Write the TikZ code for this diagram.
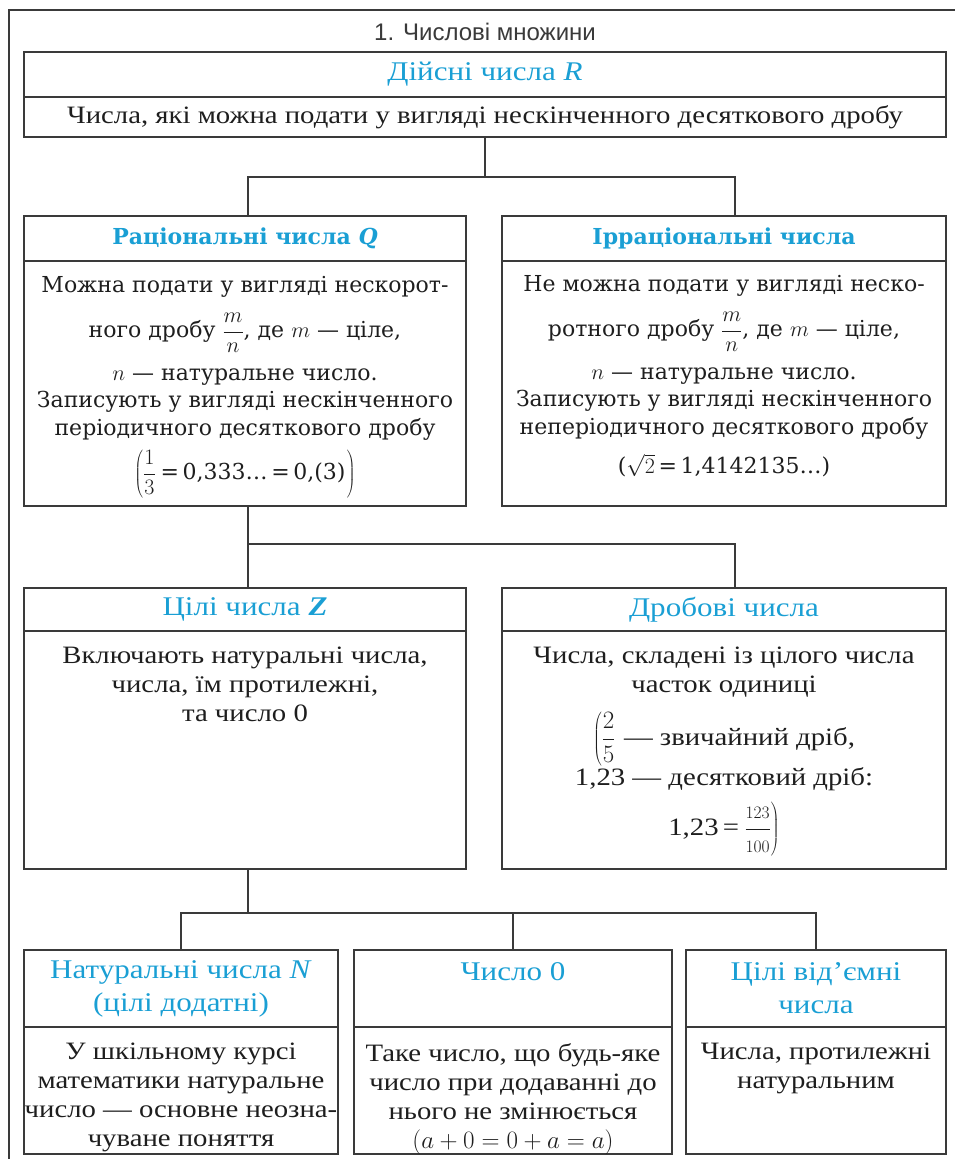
\documentclass[tikz,border=0pt]{standalone}
\usepackage{fix-cm}
\usepackage{fontspec}
\setmainfont{Liberation Serif}
\newfontfamily\wideserif{DejaVu Serif}
\newfontfamily\narrowserif[FakeStretch=1.15]{Liberation Serif}
\newfontfamily\titlesans{Liberation Sans}
\usetikzlibrary{positioning}
\definecolor{sky}{HTML}{1A9FD4}
\definecolor{rule}{HTML}{3A3A3A}
\definecolor{ink}{HTML}{1E1E1E}

\begin{document}
\begin{tikzpicture}[x=1pt,y=-1pt,color=ink,
  box/.style={draw=rule,line width=1.2pt,inner sep=0pt,outer sep=0pt,align=center},
  whead/.style={box,text=sky,font=\wideserif\bfseries\fontsize{22}{26}\selectfont},
  wtext/.style={align=center,inner sep=0pt,font=\wideserif\fontsize{22}{27.5}\selectfont},
  chead/.style={box,text=sky,font=\narrowserif\fontsize{27}{33}\selectfont},
  cbody/.style={box,font=\narrowserif\fontsize{25}{29}\selectfont},
  ctext/.style={align=center,inner sep=0pt,font=\narrowserif\fontsize{25}{29}\selectfont},
  link/.style={draw=rule,line width=1.2pt}]
\useasboundingbox (0,0) rectangle (954,1159);
\draw[rule,line width=2.2pt] (9,1170) -- (9,10) -- (970,10);
\node[font=\titlesans\fontsize{24}{28}\selectfont,text=rule] (title) at (485,32) {1. Числові множини};

% real numbers
\node[chead,minimum width=922pt,minimum height=45pt] (rh) at (485,74.5) {Дійсні числа \textit{R}};
\node[cbody,minimum width=922pt,minimum height=40pt,below=0pt of rh] (rb)
  {Числа, які можна подати у вигляді нескінченного десяткового дробу};

% rational / irrational
\node[whead,minimum width=442pt,minimum height=45pt] (qh) at (245,238.5) {Раціональні числа \textit{Q}};
\node[box,minimum width=442pt,minimum height=245pt,below=0pt of qh] (qb) {};
\node[wtext,below=15pt of qb.north] (qt)
  {Можна подати у вигляді нескорот-\\[15pt]ного дробу $\displaystyle\frac{m}{n}$,\ де $m$ — ціле,\\[15pt]$n$ — натуральне число.\\
   Записують у вигляді нескінченного\\періодичного десяткового дробу\\[9pt]
   $\displaystyle\left(\frac{1}{3}\right.$\,=\,0,333…\,=\,0,(3)$\displaystyle\left.\vphantom{\frac{1}{3}}\right)$};
\node[whead,minimum width=444pt,minimum height=45pt] (ih) at (724,238.5) {Ірраціональні числа};
\node[box,minimum width=444pt,minimum height=245pt,below=0pt of ih] (ib) {};
\node[wtext,below=14pt of ib.north] (it)
  {Не можна подати у вигляді неско-\\[15pt]ротного дробу $\displaystyle\frac{m}{n}$,\ де $m$ — ціле,\\[15pt]$n$ — натуральне число.\\
   Записують у вигляді нескінченного\\неперіодичного десяткового дробу\\[12pt]
   ($\sqrt{2}$\,=\,1,4142135…)};

% integers / fractions
\node[chead,minimum width=442pt,minimum height=43pt] (zh) at (245,609.5) {Цілі числа \textbf{\textit{Z}}};
\node[box,minimum width=442pt,minimum height=238pt,below=0pt of zh] (zb) {};
\node[ctext,below=16pt of zb.north] (zt) {Включають натуральні числа,\\числа, їм протилежні,\\та число 0};
\node[chead,minimum width=444pt,minimum height=43pt] (fh) at (724,609.5) {Дробові числа};
\node[box,minimum width=444pt,minimum height=238pt,below=0pt of fh] (fb) {};
\node[ctext,below=16pt of fb.north] (ft)
  {Числа, складені із цілого числа\\часток одиниці\\[14pt]$\displaystyle\left(\frac{2}{5}\right.$ — звичайний дріб,\\[0pt]
   1,23 — десятковий дріб:\\[10pt]1,23\,=\,$\displaystyle\left.\vphantom{\frac{2}{5}}\smash{\frac{\scriptstyle 123}{\scriptstyle 100}}\right)$};

% natural / zero / negative
\node[chead,minimum width=314pt,minimum height=77pt] (nh) at (181,988.5) {Натуральні числа \textit{N}\\(цілі додатні)};
\node[box,minimum width=314pt,minimum height=127pt,below=0pt of nh] (nb) {};
\node[ctext,below=16pt of nb.north] (nt)
  {У шкільному курсі\\математики натуральне\\число — основне неозна-\\чуване поняття};
\node[chead,minimum width=318pt,minimum height=77pt] (oh) at (513,988.5) {Число 0\\\mbox{}};
\node[box,minimum width=318pt,minimum height=127pt,below=0pt of oh] (ob) {};
\node[ctext,below=16pt of ob.north] (ot)
  {Таке число, що будь-яке\\число при додаванні до\\нього не змінюється\\$(a+0=0+a=a)$};
\node[chead,minimum width=260pt,minimum height=77pt] (gh) at (816,988.5) {Цілі від’ємні\\числа};
\node[box,minimum width=260pt,minimum height=127pt,below=0pt of gh] (gb) {};
\node[ctext,below=16pt of gb.north] (gt) {Числа, протилежні\\натуральним};

% connectors
\draw[link] (rb.south) -- ++(0,40) coordinate (rfork);
\draw[link] ([xshift=3pt]qh.north) |- (rfork) -| ([xshift=11pt]ih.north);
\draw[link] ([xshift=3pt]qb.south) -- ++(0,38) coordinate (qfork);
\draw[link] ([xshift=3pt]zh.north) -- (qfork) -| ([xshift=11pt]fh.north);
\draw[link] ([xshift=3pt]zb.south) -- ++(0,44) coordinate (zfork);
\draw[link] (nh.north) |- (zfork) -| (gh.north);
\draw[link] (oh.north) -- (oh.north |- zfork);
\end{tikzpicture}
\end{document}
